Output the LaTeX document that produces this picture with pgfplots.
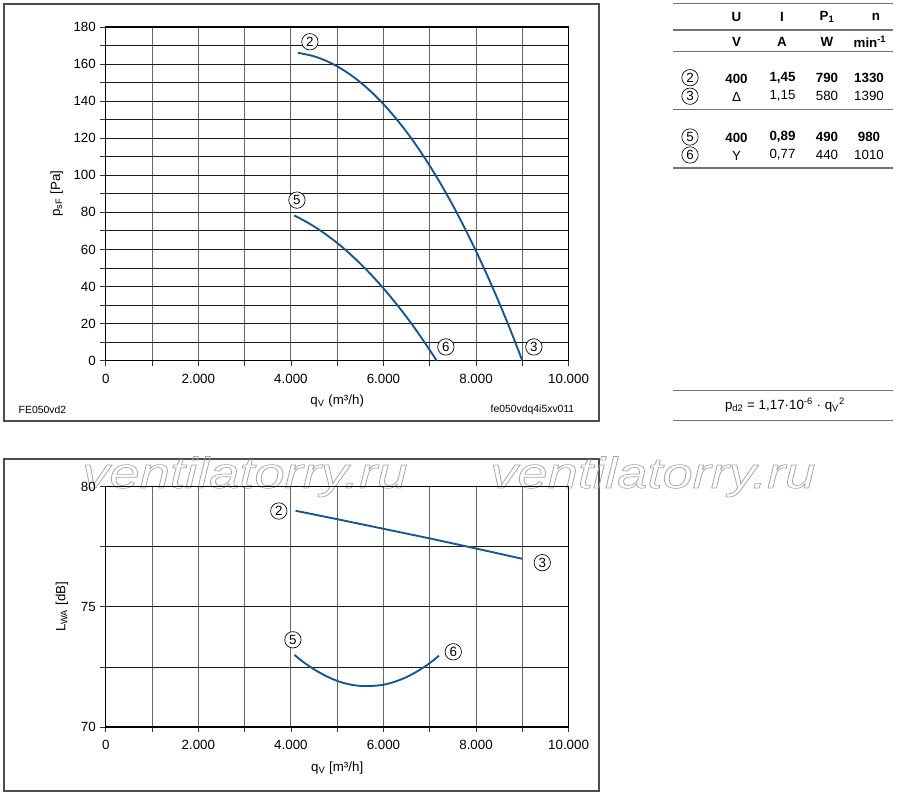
\documentclass[border=0pt]{standalone}
\usepackage{pgfplots}
\pgfplotsset{compat=1.18}
\usepackage{fontspec}
\setmainfont{Liberation Sans}
\definecolor{curve}{RGB}{22,84,148}
\tikzset{cn/.style={circle,draw,line width=0.5pt,inner sep=0pt,minimum size=12.3pt,font=\fontsize{10}{10}\selectfont}}
\pgfplotsset{fanaxis/.style={scale only axis, width=347.1pt, xmin=0,xmax=10000,
  scaled x ticks=false,
  xtick={0,2000,...,10000}, xticklabels={0,2.000,4.000,6.000,8.000,10.000},
  minor xtick={1000,3000,5000,7000,9000},
  tick pos=left, tick align=outside, major tick length=4pt, minor tick length=4pt,
  grid=both, x grid style={black!60,line width=0.8pt}, y grid style={black!90,line width=0.6pt},
  axis line style={black,line width=1pt}, tick style={black!80,line width=0.6pt},
  ticklabel style={font=\fontsize{10}{12}\selectfont},
  xticklabel style={yshift=-2.5pt},
  /pgf/number format/assume math mode=true, clip=false,
  label style={font=\fontsize{10}{12}\selectfont},
  every axis x label/.style={at={(axis description cs:0.5,0)},anchor=center,yshift=-30.5pt}}}
\begin{document}
\begin{tikzpicture}[x=0.75pt,y=-0.75pt]
\path[use as bounding box] (0,0) rectangle (900,797);
\draw[black!70,line width=0.9pt] (4,4) rectangle (599,421);
\draw[black!70,line width=0.9pt] (4,459) rectangle (599,791);

% watermark (outlined text, behind the chart)
\foreach \xx in {82,490}{
  \node[anchor=base west,inner sep=0pt,text=black!35,xscale=1.25,font=\fontsize{32.6}{33}\selectfont\itshape] at (\xx,488) {\special{pdf:literal direct 1 Tr 0.5 w}ventilatorry.ru\special{pdf:literal direct 0 Tr}};
}

% top chart
\begin{axis}[fanaxis, at={(79.35pt,-270.5pt)}, anchor=south west, height=250.3pt,
  ymin=0,ymax=180, ytick={0,20,...,180}, minor ytick={10,30,...,170},
  every axis y label/.style={at={(axis description cs:-0.106,0.5)},rotate=90,anchor=center},
  xlabel={q\textsubscript{V} (m³/h)}, ylabel={p\textsubscript{sF} [Pa]}]
\addplot[curve,line width=1.4pt,smooth] coordinates {(4150,166.0) (4250,165.6) (4500,164.15) (4750,161.85) (5000,158.75) (5250,154.85) (5500,150.15) (5750,144.65) (6000,138.34) (6250,131.24) (6500,123.35) (6750,114.62) (7000,105.11) (7250,94.8) (7500,83.69) (7750,71.77) (8000,59.06) (8250,45.55) (8500,31.24) (8750,16.1) (9000,0)};
\addplot[curve,line width=1.4pt,smooth] coordinates {(4070,78.3) (4250,76.03) (4500,72.4) (4750,68.2) (5000,63.5) (5250,58.17) (5500,52.3) (5750,45.94) (6000,39.0) (6250,31.51) (6500,23.5) (6750,14.88) (7000,5.7) (7150,0)};
\node[cn,fill=white] at (axis cs:4410,172) {2};
\node[cn,fill=white] at (axis cs:4130,86.6) {5};
\node[cn,fill=white] at (axis cs:7348,7.4) {6};
\node[cn,fill=white] at (axis cs:9250,7.4) {3};
\end{axis}

% bottom chart
\begin{axis}[fanaxis, at={(79.35pt,-545.25pt)}, anchor=south west, height=180.2pt,
  ymin=70,ymax=80, ytick={70,75,80}, minor ytick={72.5,77.5},
  every axis y label/.style={at={(axis description cs:-0.095,0.5)},rotate=90,anchor=center},
  xlabel={q\textsubscript{V} [m³/h]}, ylabel={L\textsubscript{WA} [dB]}]
\addplot[curve,line width=1.4pt] coordinates {(4100,79.0) (5000,78.65) (6000,78.25) (7000,77.85) (8000,77.43) (9000,77.0)};
\addplot[curve,line width=1.4pt,smooth] coordinates {(4080,73.0) (4250,72.73) (4500,72.40) (4750,72.13) (5000,71.92) (5250,71.78) (5500,71.71) (5750,71.71) (6000,71.76) (6250,71.89) (6500,72.08) (6750,72.34) (7000,72.66) (7200,72.97)};
\node[cn,fill=white] at (axis cs:3738,78.99) {2};
\node[cn,fill=white] at (axis cs:9431,76.84) {3};
\node[cn,fill=white] at (axis cs:4043,73.63) {5};
\node[cn,fill=white] at (axis cs:7508,73.13) {6};
\end{axis}

% small labels
\node[anchor=west,font=\fontsize{7.8}{9}\selectfont] at (14,410) {FE050vd2};
\node[anchor=east,font=\fontsize{7.8}{9}\selectfont] at (579,410) {fe050vdq4i5xv011};

% table
\begin{scope}[font=\fontsize{10}{12}\selectfont]
\foreach \yy in {3.3,30,51.7,109.3,168} \draw[black!55,line width=1pt] (673,\yy)--(893,\yy);
\foreach \yy in {390.7,420.7} \draw[black!55,line width=1pt] (673,\yy)--(893,\yy);
\node[font=\fontsize{10}{12}\selectfont\bfseries] at (736.5,16.7) {U};
\node[font=\fontsize{10}{12}\selectfont\bfseries] at (782,16.7) {I};
\node[font=\fontsize{10}{12}\selectfont\bfseries] at (827,16.7) {P\textsubscript{1}};
\node[font=\fontsize{10}{12}\selectfont\bfseries] at (876,16.7) {n};
\node[font=\fontsize{10}{12}\selectfont\bfseries] at (736.5,41.7) {V};
\node[font=\fontsize{10}{12}\selectfont\bfseries] at (782,41.7) {A};
\node[font=\fontsize{10}{12}\selectfont\bfseries] at (827,41.7) {W};
\node[font=\fontsize{10}{12}\selectfont\bfseries] at (870,41.7) {min\textsuperscript{-1}};
% rows
\node[cn] at (690,77.7) {2};
\node[font=\fontsize{10}{12}\selectfont\bfseries] at (736.5,78.5) {400};
\node[font=\fontsize{10}{12}\selectfont\bfseries] at (782.5,77.7) {1,45};
\node[font=\fontsize{10}{12}\selectfont\bfseries] at (827,77.7) {790};
\node[font=\fontsize{10}{12}\selectfont\bfseries] at (869,77.7) {1330};
\node[cn] at (690,96.2) {3};
\node at (736.5,97) {Δ};
\node at (782.5,96.2) {1,15};
\node at (827,96.2) {580};
\node at (869,96.2) {1390};
\node[cn] at (690,137) {5};
\node[font=\fontsize{10}{12}\selectfont\bfseries] at (736.5,138) {400};
\node[font=\fontsize{10}{12}\selectfont\bfseries] at (782.5,137) {0,89};
\node[font=\fontsize{10}{12}\selectfont\bfseries] at (827,137) {490};
\node[font=\fontsize{10}{12}\selectfont\bfseries] at (869,137) {980};
\node[cn] at (690,155) {6};
\node at (736.5,156) {Y};
\node at (782.5,155) {0,77};
\node at (827,155) {440};
\node at (869,155) {1010};
\node at (785,405) {p\textsubscript{d2} = 1,17·10\textsuperscript{-6} · q\textsubscript{V}\textsuperscript{2}};
\end{scope}
\end{tikzpicture}
\end{document}
